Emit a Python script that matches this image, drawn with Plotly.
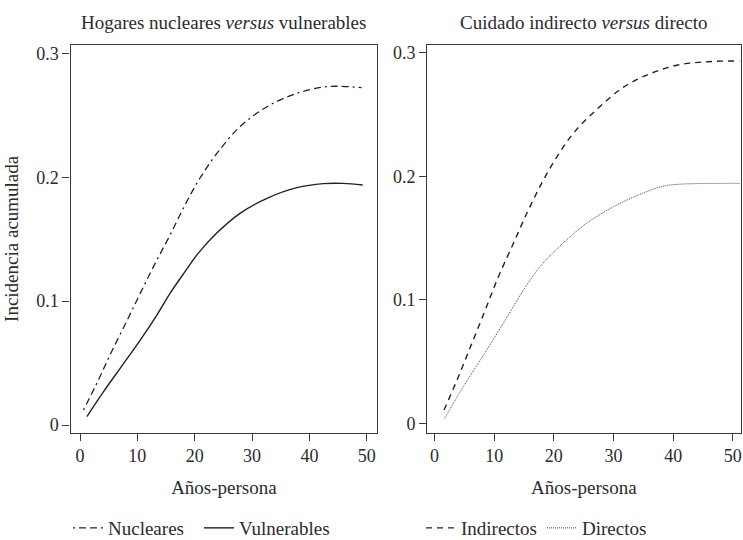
import plotly.graph_objects as go

# ---- Data ----
nuc_x = [0.6, 3.2, 5.5, 8.1, 10.5, 13.1, 15.7, 18.3, 20.9, 24.1, 27.9, 32.6, 37.8, 42.4, 45.3, 49.1]
nuc_y = [0.0121, 0.0363, 0.0592, 0.0834, 0.1063, 0.1305, 0.1534, 0.1776, 0.1992, 0.2207, 0.2409, 0.2570, 0.2678, 0.2729, 0.2735, 0.2724]

vul_x = [1.2, 4.1, 7.0, 10.5, 13.4, 15.7, 18.3, 20.6, 23.8, 27.9, 32.6, 37.8, 42.4, 45.9, 49.3]
vul_y = [0.0067, 0.0269, 0.0458, 0.0686, 0.0888, 0.1063, 0.1238, 0.1386, 0.1548, 0.1709, 0.1830, 0.1916, 0.1949, 0.1951, 0.1938]

ind_x = [1.6, 3.9, 6.15, 8.4, 10.6, 13.1, 15.6, 18.1, 20.7, 23.5, 27.4, 31.8, 36.3, 40.8, 45.8, 51.1]
ind_y = [0.0109, 0.0366, 0.0635, 0.0905, 0.1175, 0.1444, 0.1714, 0.1956, 0.2172, 0.2361, 0.2550, 0.2725, 0.2833, 0.2900, 0.2927, 0.2933]

dir_x = [1.7, 5.0, 8.4, 11.7, 15.1, 17.9, 21.2, 25.1, 29.0, 33.5, 38.0, 40.8, 51.1]
dir_y = [0.0042, 0.0311, 0.0568, 0.0824, 0.1094, 0.1282, 0.1444, 0.1606, 0.1727, 0.1835, 0.1916, 0.1935, 0.1943]

x_ticks = [0, 10, 20, 30, 40, 50]
y_ticks = [0, 0.1, 0.2, 0.3]
y_ticklabels = ["0", "0.1", "0.2", "0.3"]

titles = ["Hogares nucleares <i>versus</i> vulnerables", "Cuidado indirecto <i>versus</i> directo"]
x_title = "Años-persona"
y_title = "Incidencia acumulada"

FONT = "Liberation Serif, Times New Roman, serif"
TXT = "#2b2b2b"
LINE = "#3a3a3a"

fig = go.Figure()

fig.add_trace(go.Scatter(x=nuc_x, y=nuc_y, mode="lines", name="Nucleares",
                         line=dict(color="#222", width=1.3, dash="2px,4px,7px,4px,7px,4px", shape="spline"),
                         xaxis="x", yaxis="y", legend="legend"))
fig.add_trace(go.Scatter(x=vul_x, y=vul_y, mode="lines", name="Vulnerables",
                         line=dict(color="#222", width=1.4, shape="spline"),
                         xaxis="x", yaxis="y", legend="legend"))
fig.add_trace(go.Scatter(x=ind_x, y=ind_y, mode="lines", name="Indirectos",
                         line=dict(color="#222", width=1.4, dash="6px,5px", shape="spline"),
                         xaxis="x2", yaxis="y2", legend="legend2"))
fig.add_trace(go.Scatter(x=dir_x, y=dir_y, mode="lines", name="Directos",
                         line=dict(color="#444", width=1.0, dash="1px,1px", shape="spline"),
                         xaxis="x2", yaxis="y2", legend="legend2"))

ax_common = dict(showline=True, mirror=True, linecolor=LINE, linewidth=1.2,
                 ticks="outside", ticklen=7, tickwidth=1.2, tickcolor=LINE,
                 showgrid=False, zeroline=False, automargin=False,
                 tickfont=dict(family=FONT, size=18, color=TXT))

W, H = 743, 540
def px_x(p):
    return p / W
def px_y(p):
    return 1 - p / H

fig.update_layout(
    width=W, height=H,
    margin=dict(l=0, r=0, t=0, b=0, autoexpand=False),
    plot_bgcolor="white", paper_bgcolor="white",
    font=dict(family=FONT, color=TXT, size=19),
    xaxis=dict(domain=[px_x(70.5), px_x(377.3)], range=[-1.66, 51.84], anchor="y",
               tickvals=x_ticks, title=dict(text=x_title, font=dict(size=19, family=FONT, color=TXT), standoff=15),
               **ax_common),
    yaxis=dict(domain=[px_y(432.7), px_y(45)], range=[-0.0062, 0.3068], anchor="x",
               tickvals=y_ticks, ticktext=y_ticklabels,
               title=dict(text=y_title, font=dict(size=19, family=FONT, color=TXT), standoff=12),
               **ax_common),
    xaxis2=dict(domain=[px_x(427.2), px_x(740.5)], range=[-1.22, 51.28], anchor="y2",
                tickvals=x_ticks, title=dict(text=x_title, font=dict(size=19, family=FONT, color=TXT), standoff=15),
                **ax_common),
    yaxis2=dict(domain=[px_y(432.7), px_y(45)], range=[-0.0074, 0.3062], anchor="x2",
                tickvals=y_ticks, ticktext=y_ticklabels, **ax_common),
    legend=dict(orientation="h", x=px_x(68), y=px_y(528), xanchor="left", yanchor="middle",
                font=dict(family=FONT, size=19, color=TXT), bgcolor="rgba(0,0,0,0)",
                itemwidth=30, tracegroupgap=0, entrywidth=86, entrywidthmode="pixels"),
    legend2=dict(orientation="h", x=px_x(421), y=px_y(528), xanchor="left", yanchor="middle",
                 font=dict(family=FONT, size=19, color=TXT), bgcolor="rgba(0,0,0,0)",
                 itemwidth=30, tracegroupgap=0),
    showlegend=True,
)

for i, t in enumerate(titles):
    dom = fig.layout.xaxis.domain if i == 0 else fig.layout.xaxis2.domain
    fig.add_annotation(text=t, x=(dom[0] + dom[1]) / 2, y=px_y(22), xref="paper", yref="paper",
                       xanchor="center", yanchor="middle", showarrow=False,
                       font=dict(family=FONT, size=19, color=TXT))

fig.write_html("out.html", config={"displayModeBar": False},
               post_script="document.body.style.margin='0';document.body.style.overflow='hidden';")
